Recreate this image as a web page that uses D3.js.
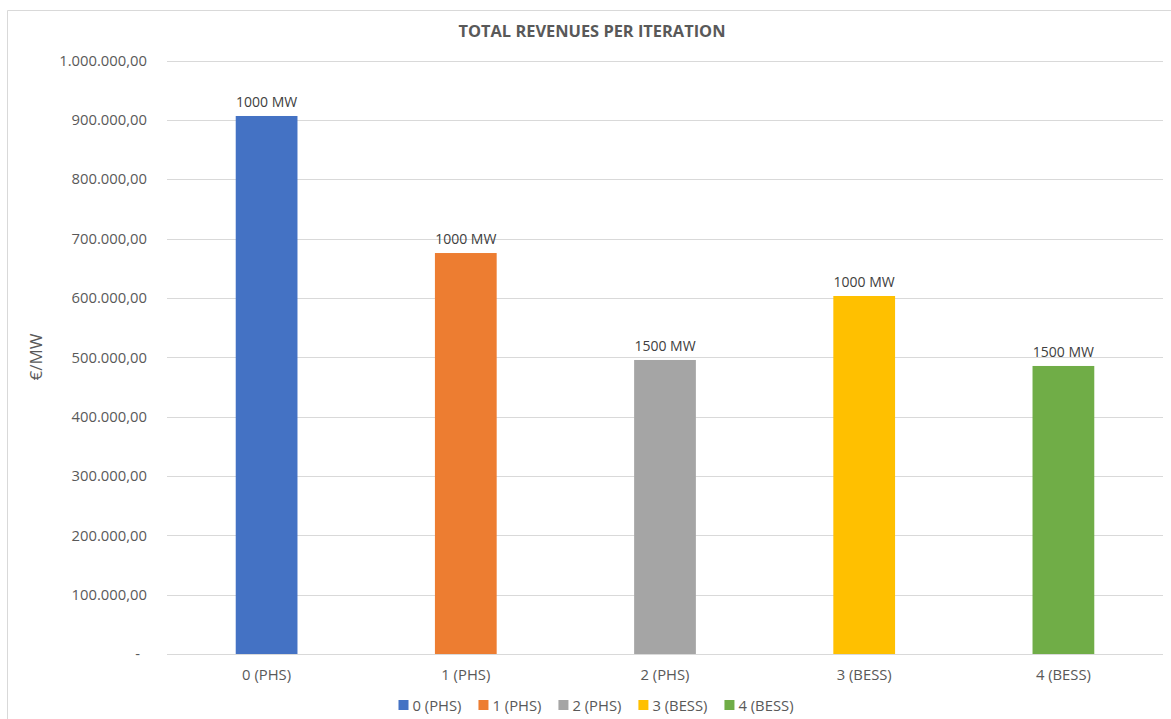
<!DOCTYPE html>
<html>
<head>
<meta charset="utf-8">
<script src="https://cdn.jsdelivr.net/npm/d3@7"></script>
<style>
  html, body { margin: 0; padding: 0; background: #fff; }
  svg { display: block; font-family: "Open Sans", sans-serif; }
</style>
</head>
<body>
<svg id="chart" width="1171" height="719"></svg>
<script>
// Total revenues per iteration (€/MW)
const categories = ["0 (PHS)", "1 (PHS)", "2 (PHS)", "3 (BESS)", "4 (BESS)"];
const revenues = [906500, 675600, 495400, 603200, 485300];
const capacityLabels = ["1000 MW", "1000 MW", "1500 MW", "1000 MW", "1500 MW"];
const colors = ["#4472C4", "#ED7D31", "#A5A5A5", "#FFC000", "#70AD47"];
const yTicks = [0, 100000, 200000, 300000, 400000, 500000, 600000, 700000, 800000, 900000, 1000000];

const FONT = "'Open Sans', sans-serif";
const svg = d3.select("#chart");
const W = 1171, H = 719;
const plotLeft = 167, plotRight = 1163, plotTop = 60.5, plotBottom = 654;

// Chart frame (top and left edges)
svg.append("line").attr("x1", 7.5).attr("x2", W).attr("y1", 10.5).attr("y2", 10.5)
  .attr("stroke", "#d9d9d9").attr("stroke-width", 1);
svg.append("line").attr("x1", 7.5).attr("x2", 7.5).attr("y1", 10.5).attr("y2", H)
  .attr("stroke", "#d9d9d9").attr("stroke-width", 1);

const x = d3.scaleBand().domain(categories)
  .range([plotLeft, plotRight])
  .paddingInner(0.69).paddingOuter(0.345);
const y = d3.scaleLinear().domain([0, 1000000]).range([plotBottom, plotTop]);

const euro = d3.formatLocale({ decimal: ",", thousands: ".", grouping: [3], currency: ["", "€"] }).format(",.2f");
const fmt = v => v === 0 ? "-" : euro(v);

// Gridlines
svg.append("g").selectAll("line").data(yTicks.filter(d => d > 0)).join("line")
  .attr("x1", plotLeft).attr("x2", plotRight)
  .attr("y1", d => Math.round(y(d)) + 0.5).attr("y2", d => Math.round(y(d)) + 0.5)
  .attr("stroke", "#d9d9d9").attr("stroke-width", 1);

// Y axis labels (accounting style: the zero dash sits left of the decimals)
const yAxis = d3.axisLeft(y).tickValues(yTicks).tickFormat(fmt).tickSize(0).tickPadding(20);
const yg = svg.append("g").attr("transform", `translate(${plotLeft},0)`).call(yAxis);
yg.select(".domain").remove();
yg.selectAll("text").attr("fill", "#595959").attr("font-size", 14.8).style("font-family", FONT)
  .attr("dx", d => d === 0 ? -7 : 0);

// Bars
svg.append("g").selectAll("rect").data(categories).join("rect")
  .attr("x", d => x(d)).attr("width", x.bandwidth())
  .attr("y", (d, i) => y(revenues[i]))
  .attr("height", (d, i) => plotBottom - y(revenues[i]))
  .attr("fill", (d, i) => colors[i]);

// Baseline
svg.append("line").attr("x1", plotLeft).attr("x2", plotRight)
  .attr("y1", plotBottom + 0.5).attr("y2", plotBottom + 0.5)
  .attr("stroke", "#d9d9d9").attr("stroke-width", 1);

// Data labels
svg.append("g").selectAll("text").data(categories).join("text")
  .attr("x", d => x(d) + x.bandwidth() / 2)
  .attr("y", (d, i) => y(revenues[i]) - 9)
  .attr("text-anchor", "middle").attr("font-size", 14).attr("fill", "#404040")
  .text((d, i) => capacityLabels[i]);

// X axis labels
const xAxis = d3.axisBottom(x).tickSize(0).tickPadding(15);
const xg = svg.append("g").attr("transform", `translate(0,${plotBottom})`).call(xAxis);
xg.select(".domain").remove();
xg.selectAll("text").attr("fill", "#595959").attr("font-size", 14.8).style("font-family", FONT);

// Title
svg.append("text").attr("x", 592).attr("y", 37)
  .attr("text-anchor", "middle").attr("font-size", 16.4).attr("font-weight", "bold")
  .attr("fill", "#595959").text("TOTAL REVENUES PER ITERATION");

// Y axis title
svg.append("text").attr("transform", `translate(42,357) rotate(-90)`)
  .attr("text-anchor", "middle").attr("font-size", 17).attr("fill", "#595959")
  .text("€/MW");

// Legend
const legend = svg.append("g");
let lx = 0;
categories.forEach((c, i) => {
  const g = legend.append("g").attr("transform", `translate(${lx},0)`);
  g.append("rect").attr("x", 0).attr("y", -5).attr("width", 10).attr("height", 10).attr("fill", colors[i]);
  const t = g.append("text").attr("x", 14).attr("y", 5.5).attr("font-size", 14.8).attr("fill", "#595959").text(c);
  lx += 14 + t.node().getComputedTextLength() + 17;
});
const totalW = lx - 17;
legend.attr("transform", `translate(${596 - totalW / 2},705)`);
</script>
</body>
</html>
